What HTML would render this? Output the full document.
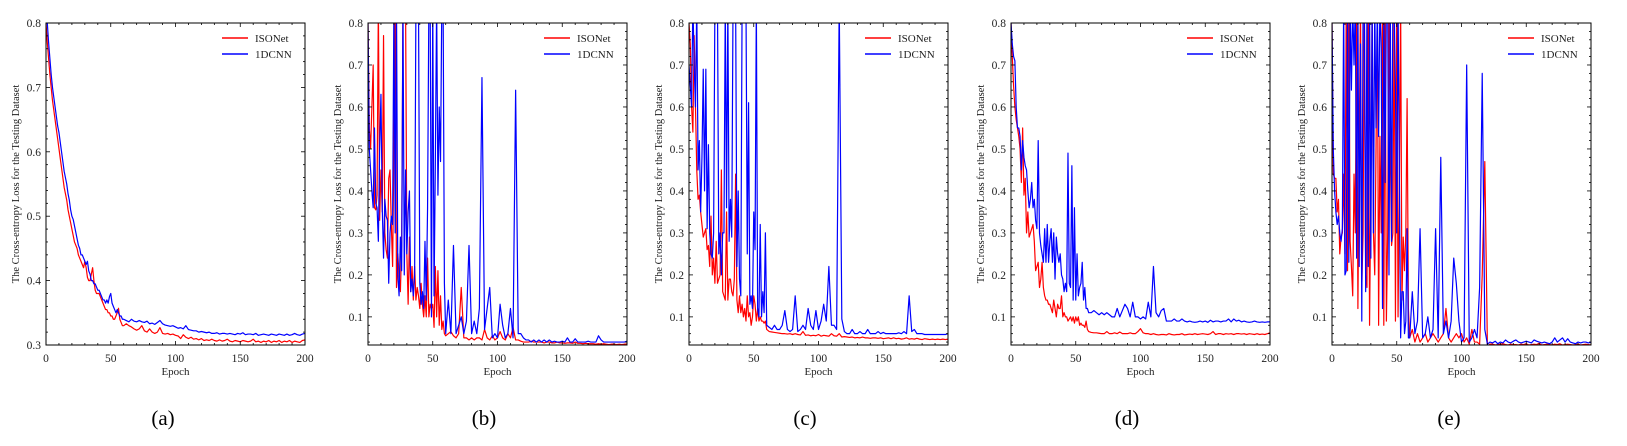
<!DOCTYPE html>
<html><head><meta charset="utf-8"><style>
html,body{margin:0;padding:0;background:#fff;}
svg{display:block;font-family:"Liberation Serif","DejaVu Serif",serif;}
</style></head><body>
<svg id="fig" width="1627" height="446" viewBox="0 0 1627 446" xmlns="http://www.w3.org/2000/svg"></svg>
<script>
// ---- data: epochs 0..60 dense ("early"), then 62..200 every 2 epochs ("late")
const xTicks=[0,50,100,150,200];
const panelLabels=["(a)","(b)","(c)","(d)","(e)"];
const seriesNames=["ISONet","1DCNN"];
const yMinA=0.3, yMinOther=0.033, yMax=0.8;
const yTicksA=["0.3","0.4","0.5","0.6","0.7","0.8"];
const yTicksOther=["0.1","0.2","0.3","0.4","0.5","0.6","0.7","0.8"];

const aRedEarly=[.80,.77,.745,.72,.70,.68,.665,.65,.635,.62,.605,.59,.575,.56,.545,.535,.525,.51,.50,.49,.48,.47,.46,.455,.45,.44,.435,.43,.425,.42,.43,.42,.405,.40,.40,.41,.42,.40,.385,.38,.38,.38,.375,.37,.365,.36,.355,.355,.35,.35,.345,.345,.34,.34,.345,.35,.357,.34,.335,.33,.33];
const aRedLate=[.333,.33,.328,.325,.323,.325,.33,.322,.32,.325,.32,.318,.32,.327,.318,.317,.318,.316,.317,.315,.314,.31,.316,.312,.31,.312,.309,.31,.308,.31,.307,.308,.307,.309,.307,.306,.308,.306,.307,.309,.306,.305,.307,.306,.305,.307,.306,.305,.306,.309,.305,.306,.304,.306,.305,.307,.304,.306,.305,.307,.304,.306,.305,.307,.304,.306,.305,.304,.307,.308];
const aBlueEarly=[.80,.80,.77,.745,.72,.70,.685,.67,.655,.64,.63,.615,.60,.585,.57,.56,.55,.535,.525,.51,.50,.495,.485,.475,.465,.455,.45,.44,.44,.435,.43,.425,.43,.415,.41,.40,.40,.395,.395,.39,.385,.385,.38,.375,.37,.37,.365,.37,.365,.375,.38,.365,.36,.355,.35,.355,.35,.345,.345,.34,.34];
const aBlueLate=[.338,.336,.34,.337,.336,.338,.336,.335,.337,.333,.334,.332,.335,.338,.333,.331,.33,.329,.33,.328,.326,.327,.325,.33,.324,.323,.322,.322,.32,.321,.32,.319,.32,.318,.318,.319,.317,.318,.318,.317,.318,.317,.316,.318,.317,.319,.316,.317,.317,.316,.318,.315,.316,.317,.316,.315,.317,.316,.315,.317,.316,.315,.317,.315,.316,.318,.316,.315,.317,.318];

const bRedEarly=[.80,.55,.50,.60,.70,.36,.355,.39,.85,.33,.45,.35,.77,.30,.26,.24,.43,.45,.32,.22,.50,.85,.17,.25,.20,.16,.27,.85,.85,.85,.25,.13,.29,.16,.22,.14,.22,.14,.17,.15,.12,.18,.13,.10,.15,.10,.24,.10,.13,.12,.13,.075,.22,.10,.21,.08,.15,.07,.09,.06,.055];
const bRedLate=[.06,.065,.055,.05,.06,.17,.05,.05,.045,.05,.045,.05,.05,.045,.07,.05,.045,.055,.045,.05,.065,.05,.045,.06,.05,.075,.045,.045,.042,.04,.04,.04,.042,.04,.04,.04,.04,.038,.04,.04,.038,.038,.04,.038,.038,.037,.038,.038,.037,.04,.037,.037,.036,.037,.036,.036,.036,.035,.036,.035,.036,.035,.034,.035,.035,.034,.035,.034,.035,.035];
const bBlueEarly=[.80,.50,.45,.40,.36,.55,.37,.36,.28,.50,.63,.36,.24,.38,.34,.33,.18,.30,.34,.32,.85,.30,.85,.20,.15,.29,.21,.85,.20,.45,.25,.35,.40,.16,.19,.15,.20,.85,.85,.85,.18,.13,.16,.12,.28,.14,.36,.85,.85,.10,.85,.15,.47,.85,.39,.60,.47,.85,.85,.18,.06];
const bBlueLate=[.14,.06,.27,.06,.08,.10,.06,.09,.27,.06,.09,.06,.12,.67,.07,.12,.17,.05,.06,.05,.13,.08,.05,.06,.12,.05,.64,.06,.06,.05,.045,.045,.04,.045,.04,.045,.04,.045,.04,.045,.04,.042,.04,.04,.042,.04,.05,.04,.04,.048,.04,.04,.04,.04,.042,.04,.04,.04,.055,.045,.04,.04,.04,.04,.04,.04,.04,.04,.04,.042];

const cRedEarly=[.80,.75,.60,.54,.77,.60,.45,.38,.39,.35,.32,.29,.30,.31,.26,.27,.22,.34,.20,.24,.18,.28,.18,.19,.20,.45,.16,.15,.14,.35,.14,.19,.19,.16,.15,.19,.44,.14,.11,.15,.11,.13,.10,.12,.09,.15,.10,.11,.08,.10,.15,.13,.09,.12,.09,.10,.09,.09,.085,.09,.07];
const cRedLate=[.065,.064,.063,.062,.061,.06,.06,.059,.06,.058,.06,.058,.057,.065,.056,.057,.055,.056,.055,.058,.054,.056,.055,.054,.06,.055,.054,.06,.052,.053,.052,.051,.052,.05,.051,.05,.052,.05,.05,.049,.05,.05,.049,.05,.048,.049,.05,.048,.05,.048,.049,.047,.048,.05,.047,.048,.047,.049,.047,.046,.048,.047,.046,.047,.046,.047,.046,.047,.046,.047];
const cBlueEarly=[.70,.65,.60,.85,.70,.60,.85,.45,.52,.35,.48,.69,.40,.69,.31,.51,.30,.25,.24,.30,.85,.85,.85,.25,.30,.20,.30,.30,.85,.36,.85,.28,.38,.29,.85,.85,.85,.22,.40,.19,.15,.85,.85,.85,.85,.25,.61,.13,.15,.12,.35,.26,.85,.12,.10,.32,.10,.16,.11,.30,.08];
const cBlueLate=[.075,.07,.08,.07,.07,.08,.115,.07,.065,.07,.15,.065,.07,.08,.07,.12,.08,.07,.115,.07,.09,.13,.09,.22,.08,.08,.07,.85,.095,.065,.06,.06,.07,.06,.06,.065,.06,.06,.07,.06,.06,.06,.065,.06,.063,.06,.06,.06,.06,.06,.062,.06,.065,.06,.15,.065,.07,.06,.06,.06,.058,.058,.058,.058,.058,.058,.058,.058,.058,.06];

const dRedEarly=[.80,.72,.65,.60,.57,.55,.53,.50,.42,.55,.39,.43,.30,.35,.29,.30,.31,.32,.28,.21,.22,.23,.17,.19,.23,.17,.15,.14,.14,.13,.13,.12,.11,.14,.12,.10,.13,.12,.12,.15,.10,.11,.10,.10,.09,.095,.10,.09,.10,.085,.10,.09,.10,.08,.085,.08,.08,.075,.09,.07,.065];
const dRedLate=[.063,.062,.062,.061,.06,.06,.065,.06,.06,.062,.06,.064,.06,.06,.06,.062,.06,.06,.065,.072,.062,.06,.06,.058,.06,.058,.057,.058,.058,.057,.06,.058,.057,.058,.058,.06,.057,.058,.059,.058,.06,.058,.059,.06,.059,.058,.06,.065,.058,.06,.06,.058,.06,.059,.06,.058,.06,.06,.059,.06,.058,.06,.059,.058,.06,.058,.059,.058,.06,.062];
const dBlueEarly=[.80,.75,.72,.71,.60,.55,.55,.53,.45,.52,.48,.46,.45,.40,.36,.38,.42,.36,.38,.33,.31,.52,.30,.27,.25,.23,.31,.23,.32,.23,.28,.31,.23,.30,.19,.29,.25,.23,.25,.20,.19,.16,.18,.16,.49,.18,.17,.46,.14,.36,.14,.25,.15,.17,.18,.23,.14,.17,.12,.12,.11];
const dBlueLate=[.11,.115,.11,.105,.11,.105,.11,.105,.10,.10,.12,.10,.115,.13,.12,.10,.135,.10,.10,.095,.10,.095,.135,.10,.22,.11,.10,.115,.12,.09,.09,.09,.095,.09,.09,.095,.09,.088,.09,.088,.087,.088,.09,.088,.09,.087,.092,.088,.09,.09,.088,.09,.09,.095,.088,.095,.09,.092,.088,.09,.088,.087,.088,.09,.088,.087,.088,.087,.088,.088];

const eRedEarly=[.80,.44,.43,.43,.35,.38,.25,.29,.30,.44,.25,.85,.21,.85,.28,.22,.15,.44,.30,.85,.12,.50,.85,.17,.30,.85,.20,.17,.85,.08,.40,.85,.30,.20,.50,.85,.08,.53,.30,.85,.08,.85,.09,.30,.85,.50,.27,.30,.85,.09,.85,.10,.40,.85,.14,.29,.21,.30,.62,.12,.05];
const eRedLate=[.07,.04,.06,.04,.05,.06,.04,.05,.06,.05,.04,.05,.06,.12,.05,.04,.05,.06,.05,.06,.04,.05,.035,.07,.04,.04,.035,.20,.47,.03,.035,.035,.033,.034,.035,.036,.034,.033,.035,.034,.034,.033,.035,.034,.036,.033,.034,.035,.034,.037,.033,.034,.035,.034,.033,.035,.034,.036,.033,.034,.035,.034,.033,.034,.035,.033,.034,.035,.034,.033];
const eBlueEarly=[.80,.50,.40,.35,.32,.34,.30,.28,.31,.85,.20,.21,.85,.23,.85,.64,.85,.70,.85,.24,.85,.22,.75,.09,.85,.85,.16,.85,.22,.85,.24,.85,.30,.85,.55,.85,.53,.85,.74,.12,.85,.42,.85,.85,.20,.85,.28,.85,.85,.64,.30,.85,.44,.05,.16,.16,.06,.09,.31,.05,.05];
const eBlueLate=[.16,.06,.09,.31,.05,.06,.10,.05,.07,.31,.05,.48,.06,.09,.05,.09,.24,.18,.09,.04,.05,.70,.04,.05,.07,.05,.17,.68,.07,.035,.04,.038,.042,.036,.04,.038,.045,.04,.038,.042,.045,.04,.038,.04,.042,.04,.038,.045,.042,.04,.038,.04,.038,.036,.04,.05,.04,.045,.05,.04,.048,.04,.038,.036,.04,.038,.04,.04,.038,.04];

const panels=[
 {red:[aRedEarly,aRedLate],blue:[aBlueEarly,aBlueLate],ymin:yMinA,yt:yTicksA},
 {red:[bRedEarly,bRedLate],blue:[bBlueEarly,bBlueLate],ymin:yMinOther,yt:yTicksOther},
 {red:[cRedEarly,cRedLate],blue:[cBlueEarly,cBlueLate],ymin:yMinOther,yt:yTicksOther},
 {red:[dRedEarly,dRedLate],blue:[dBlueEarly,dBlueLate],ymin:yMinOther,yt:yTicksOther},
 {red:[eRedEarly,eRedLate],blue:[eBlueEarly,eBlueLate],ymin:yMinOther,yt:yTicksOther}
];

const NS="http://www.w3.org/2000/svg";
const svg=document.getElementById('fig');
function mk(tag,attrs,parent){const e=document.createElementNS(NS,tag);for(const k in attrs)e.setAttribute(k,attrs[k]);(parent||svg).appendChild(e);return e;}
const lefts=[46,368,689,1011,1332], W=259, TOP=23, BOT=345;
const labelX=[163,484,805,1127,1449];

panels.forEach((p,pi)=>{
  const L=lefts[pi], R=L+W;
  const g=mk('g',{});
  
  
  const xs=e=>L+e/200*W;
  const ys=v=>BOT-(v-p.ymin)/(yMax-p.ymin)*(BOT-TOP);
  const cid='clip'+pi;
  const cp=mk('clipPath',{id:cid},g);
  mk('rect',{x:L,y:TOP,width:W,height:BOT-TOP},cp);
  // series
  [['red','#ff0000',0],['blue','#0000ff',1]].forEach(([key,col,si])=>{
    const [early,late]=p[key];
    const pts=[];
    early.forEach((v,i)=>pts.push(xs(i).toFixed(2)+','+ys(v).toFixed(2)));
    late.forEach((v,i)=>pts.push(xs(62+2*i).toFixed(2)+','+ys(v).toFixed(2)));
    const pl=mk('polyline',{points:pts.join(' '),fill:'none',stroke:col,'stroke-width':1.2,'stroke-linejoin':'round','clip-path':'url(#'+cid+')'},g);
    
    
  });
  // frame
  const fr=mk('rect',{x:L,y:TOP,width:W,height:BOT-TOP,fill:'none',stroke:'#000','stroke-width':1},g);
  
  
  // x ticks
  for(let e=0;e<=200;e+=10){
    const x=xs(e), maj=e%50===0, len=maj?4:2;
    mk('line',{x1:x,y1:BOT,x2:x,y2:BOT-len,stroke:'#000','stroke-width':0.8},g);
    mk('line',{x1:x,y1:TOP,x2:x,y2:TOP+len,stroke:'#000','stroke-width':0.8},g);
  }
  xTicks.forEach(t=>{
    const tx=mk('text',{x:xs(t),y:362,'font-size':11.5,'text-anchor':'middle',fill:'#222'},g);
    tx.textContent=t;
    
    
  });
  // y ticks
  for(let k=Math.ceil(p.ymin*50-1e-6);k<=40;k++){
    const v=k/50; const y=ys(v); const maj=k%5===0; const len=maj?4:2;
    mk('line',{x1:L,y1:y,x2:L+len,y2:y,stroke:'#000','stroke-width':0.8},g);
    mk('line',{x1:R,y1:y,x2:R-len,y2:y,stroke:'#000','stroke-width':0.8},g);
  }
  p.yt.forEach(t=>{
    const ty=mk('text',{x:L-5,y:ys(parseFloat(t))+4,'font-size':11.5,'text-anchor':'end',fill:'#222'},g);
    ty.textContent=t;
    
    
  });
  const xl=mk('text',{x:L+W/2,y:375,'font-size':11,'text-anchor':'middle',fill:'#222'},g);
  xl.textContent='Epoch';
  
  
  const yl=mk('text',{x:0,y:0,'font-size':10.5,'text-anchor':'middle',fill:'#222',transform:`translate(${L-27},${(TOP+BOT)/2}) rotate(-90)`},g);
  yl.textContent='The Cross-entropy Loss for the Testing Dataset';
  
  
  // legend
  [['#ff0000',0],['#0000ff',1]].forEach(([col,i])=>{
    const lg=mk('g',{},g);
    
    
    const yy=38+i*16;
    mk('line',{x1:L+176,y1:yy,x2:L+202,y2:yy,stroke:col,'stroke-width':1.4},lg);
    const lt=mk('text',{x:L+209,y:yy+4,'font-size':11,fill:'#222'},lg);
    lt.textContent=seriesNames[i];
  });
  const pl=mk('text',{x:labelX[pi],y:425,'font-size':21,'text-anchor':'middle',fill:'#000'},g);
  pl.textContent=panelLabels[pi];
  
  
});
</script>
</body></html>
